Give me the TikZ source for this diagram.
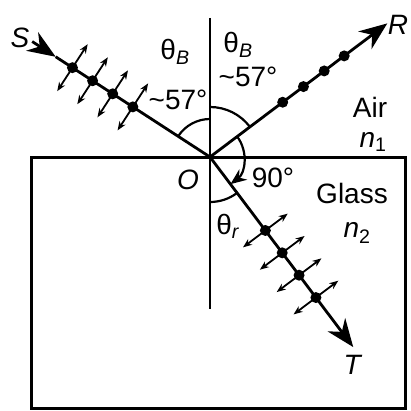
\documentclass[tikz,border=0pt]{standalone}
\usepackage{fontspec}
\setmainfont{Liberation Sans}
\usetikzlibrary{arrows.meta,calc}

\tikzset{
  ray/.style={line width=2.8pt},
  bigtip/.style={-{Stealth[length=28pt,width=22pt,inset=9pt]}},
  pol/.style={line width=1.8pt,{Stealth[length=9pt,width=7pt]}-{Stealth[length=9pt,width=7pt]}},
  angarc/.style={line width=2.2pt},
  lbl/.style={font=\fontsize{28}{32}\selectfont, inner sep=0pt},
}

\begin{document}
\begin{tikzpicture}[x=1pt,y=1pt]
  \useasboundingbox (0,0) rectangle (411,410);
  \coordinate (O) at (210,253);
  % glass block and normal at O
  \draw[line width=3pt] (31,2) rectangle (405,253);
  \coordinate (n0) at (210,392);
  \coordinate (n1) at (210,101);
  \draw[ray] (n0) -- (n1);
  % incident ray, arrow head near S
  \coordinate (s0) at ($(O)+(147:212)$);
  \coordinate (s1) at ($(O)+(147:184)$);
  \draw[ray,bigtip] (s0) -- (s1);
  \draw[ray] (s1) -- (O);
  % reflected and transmitted rays
  \coordinate (r1) at ($(O)+(37:222)$);
  \coordinate (t1) at ($(O)+(-53:238)$);
  \draw[ray,bigtip] (O) -- (r1);
  \draw[ray,bigtip] (O) -- (t1);
  % polarisation: both components on S, only dots on R
  \foreach \d in {92,116,140,164} {
    \fill ($(O)+(147:\d)$) circle (5.5);
    \draw[pol] ($(O)+(147:\d)+(237:28)$) -- ($(O)+(147:\d)+(57:28)$);
  }
  \foreach \d in {91,117,143,168} {
    \fill ($(O)+(37:\d)$) circle (5.5);
  }
  \foreach \d in {92,120,148,176} {
    \fill ($(O)+(-53:\d)$) circle (5.5);
    \draw[pol] ($(O)+(-53:\d)+(217:28)$) -- ($(O)+(-53:\d)+(37:28)$);
  }
  % angles
  \draw[angarc] ($(O)+(90:38)$) arc (90:147:38);
  \draw[angarc] ($(O)+(37:50)$) arc (37:90:50);
  \draw[angarc,-{Stealth[length=16pt,width=13pt]}] ($(O)+(37:34)$) arc (37:-53:34);
  \draw[angarc] ($(O)+(270:45)$) arc (270:307:45);
  % labels
  \node[lbl] (sl) at (20,372) {\textit{S}};
  \node[lbl] (rl) at (398,385) {\textit{R}};
  \node[lbl] (tl) at (353,45) {\textit{T}};
  \node[lbl] (ol) at (188,230) {\textit{O}};
  \node[lbl] (thbl) at (175,358) {θ\textsubscript{\textit{B}}};
  \node[lbl] (thbr) at (238,365) {θ\textsubscript{\textit{B}}};
  \node[lbl] (degl) at (178,310) {\textasciitilde57°};
  \node[lbl] (degr) at (248,333) {\textasciitilde57°};
  \node[lbl] (deg90) at (273,232) {90°};
  \node[lbl] (thr) at (228,184) {θ\textsubscript{\textit{r}}};
  \node[lbl] (air) at (370,303) {Air};
  \node[lbl] (nair) at (373,268) {\textit{n}\textsubscript{1}};
  \node[lbl] (glass) at (352,217) {Glass};
  \node[lbl] (nglass) at (357,177) {\textit{n}\textsubscript{2}};
\end{tikzpicture}
\end{document}
